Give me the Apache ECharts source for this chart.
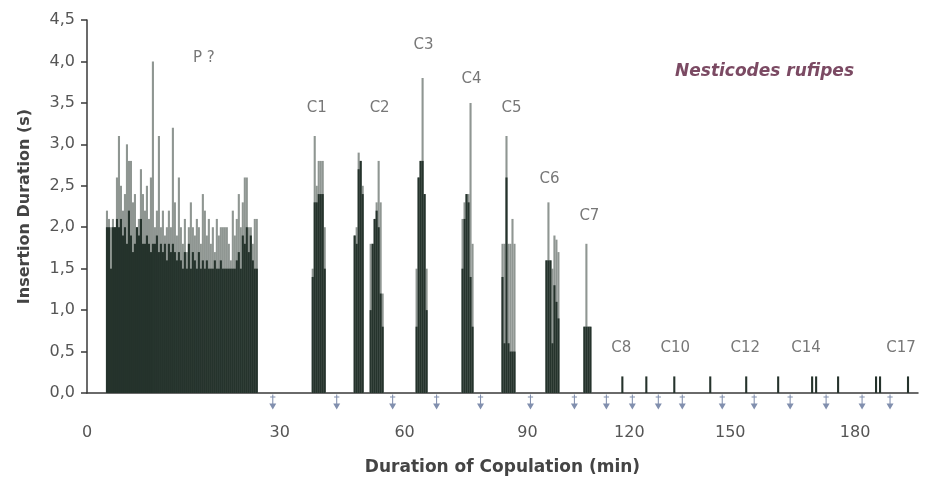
<!DOCTYPE html>
<html>
<head>
<meta charset="utf-8">
<script src="https://cdn.jsdelivr.net/npm/echarts@6/dist/echarts.min.js"></script>
<style>
html,body{margin:0;padding:0;background:#fff;}
#chart{width:933px;height:477px;}
</style>
</head>
<body>
<div id="chart"></div>
<script>
// x positions are "recording slots" along the copulation (irregular time scale of the original)
const xTickSlots  = [0, 96.5, 159, 220.5, 271.5, 322, 384.5];
const xTickLabels = ['0', '30', '60', '90', '120', '150', '180'];

// groups of insertions: start slot and consecutive values
const groupNames = ['P ?', 'C1', 'C2a', 'C2b', 'C3', 'C4', 'C5', 'C6', 'C7'];
const groupStart = [10, 113, 134, 142, 165, 188, 208, 230, 249];
const pDark  = [2.0,2.0,1.5,2.0,2.0,2.1,2.0,2.1,1.9,2.0,1.8,2.2,1.9,1.7,1.8,2.0,1.9,2.1,1.8,1.8,
                1.9,1.8,1.7,1.8,1.8,1.9,1.7,1.8,1.7,1.8,1.6,1.8,1.7,1.8,1.7,1.6,1.7,1.6,1.5,1.7,
                1.5,1.8,1.5,1.7,1.6,1.5,1.7,1.5,1.6,1.5,1.6,1.5,1.5,1.5,1.6,1.5,1.5,1.6,1.5,1.5,
                1.5,1.5,1.5,1.5,1.5,1.6,1.7,1.5,1.9,1.8,2.0,1.7,1.9,1.6,1.5,1.5];
const pLight = [2.2,2.1,2.0,2.1,2.0,2.6,3.1,2.5,2.2,2.4,3.0,2.8,2.8,2.3,2.4,2.0,2.1,2.7,2.4,2.2,
                2.5,2.1,2.6,4.0,2.0,2.2,3.1,2.0,2.2,1.9,2.0,2.2,2.0,3.2,2.3,1.9,2.6,2.0,1.8,2.1,
                1.7,2.0,2.3,2.0,1.9,2.1,2.0,1.8,2.4,2.2,1.9,2.1,1.8,2.0,1.7,2.1,1.9,2.0,2.0,2.0,
                2.0,1.8,1.6,2.2,1.9,2.1,2.4,2.0,2.3,2.6,2.6,2.0,2.0,1.8,2.1,2.1];
const c1Dark  = [1.4,2.3,2.3,2.4,2.4,2.4,1.5];
const c1Light = [1.5,3.1,2.5,2.8,2.8,2.8,2.0];
const c2aDark  = [1.9,1.8,2.7,2.8,2.4];
const c2aLight = [1.9,2.0,2.9,2.8,2.5];
const c2bDark  = [1.0,1.8,2.1,2.2,2.0,1.2,0.8];
const c2bLight = [1.8,1.8,2.1,2.3,2.8,2.3,1.2];
const c3Dark  = [0.8,2.6,2.8,2.8,2.4,1.0];
const c3Light = [1.5,2.6,2.8,3.8,2.4,1.5];
const c4Dark  = [1.5,2.1,2.4,2.3,1.4,0.8];
const c4Light = [2.1,2.3,2.4,2.4,3.5,1.8];
const c5Dark  = [1.4,0.6,2.6,0.6,0.5,0.5,0.5];
const c5Light = [1.8,1.8,3.1,1.8,1.8,2.1,1.8];
const c6Dark  = [1.6,1.6,1.6,0.6,1.3,1.1,0.9];
const c6Light = [1.6,2.3,1.6,1.5,1.9,1.85,1.7];
const c7Dark  = [0.8,0.8,0.8,0.8];
const c7Light = [0.8,1.8,0.8,0.8];
const darkGroups  = [pDark, c1Dark, c2aDark, c2bDark, c3Dark, c4Dark, c5Dark, c6Dark, c7Dark];
const lightGroups = [pLight, c1Light, c2aLight, c2bLight, c3Light, c4Light, c5Light, c6Light, c7Light];

// late copulations (C8 - C17): single short insertions
const lateSlots  = [268, 280, 294, 312, 330, 346, 363, 365, 376, 395, 397, 411];
const lateValues = [0.2, 0.2, 0.2, 0.2, 0.2, 0.2, 0.2, 0.2, 0.2, 0.2, 0.2, 0.2];

// arrows under the axis
const arrowSlots = [93, 125, 153, 175, 197, 222, 244, 260, 273, 286, 298, 318, 334, 352, 370, 388, 402];

// annotations
const noteTexts  = ['P ?', 'C1', 'C2', 'C3', 'C4', 'C5', 'C6', 'C7', 'C8', 'C10', 'C12', 'C14', 'C17'];
const noteSlots  = [58.5, 115, 146.5, 168.5, 192.5, 212.5, 231.5, 251.5, 267.5, 294.5, 329.5, 360, 407.5];
const noteValues = [4.04, 3.44, 3.44, 4.2, 3.79, 3.44, 2.58, 2.14, 0.54, 0.54, 0.54, 0.54, 0.54];

const darkData = [], lightData = [];
groupStart.forEach((s, g) => {
  darkGroups[g].forEach((v, i) => darkData.push([s + i, v]));
  lightGroups[g].forEach((v, i) => lightData.push([s + i, v]));
});
lateSlots.forEach((s, i) => darkData.push([s, lateValues[i]]));

const FONT = 'DejaVu Sans';
const chart = echarts.init(document.getElementById('chart'), null, {renderer: 'canvas'});
chart.setOption({
  animation: false,
  backgroundColor: '#fff',
  title: {
    text: 'Nesticodes rufipes',
    left: 670, top: 58,
    textStyle: {fontFamily: FONT, fontSize: 17, fontWeight: 'bold', fontStyle: 'italic', color: '#7b4a63'}
  },
  grid: {left: 87, right: 15, top: 20, bottom: 84, containLabel: false, outerBoundsMode: 'none'},
  xAxis: {
    type: 'value', min: 0, max: 416,
    name: 'Duration of Copulation (min)', nameLocation: 'middle', nameGap: 66,
    nameTextStyle: {fontFamily: FONT, fontSize: 17, fontWeight: 'bold', color: '#444'},
    axisLine: {show: true, onZero: false, lineStyle: {color: '#3a3a3a', width: 1.5}},
    axisTick: {show: false},
    splitLine: {show: false},
    axisLabel: {
      customValues: xTickSlots,
      margin: 32,
      fontFamily: FONT, fontSize: 16, color: '#555',
      formatter: v => { const i = xTickSlots.indexOf(v); return i >= 0 ? xTickLabels[i] : ''; }
    }
  },
  yAxis: {
    type: 'value', min: 0, max: 4.5, interval: 0.5,
    name: 'Insertion Duration (s)', nameLocation: 'middle', nameGap: 54,
    nameTextStyle: {fontFamily: FONT, fontSize: 16, fontWeight: 'bold', color: '#444'},
    axisLine: {show: true, lineStyle: {color: '#3a3a3a', width: 1.5}},
    axisTick: {show: true, length: 6, lineStyle: {color: '#3a3a3a', width: 1.5}},
    splitLine: {show: false},
    axisLabel: {
      margin: 12, fontFamily: FONT, fontSize: 16, color: '#555',
      formatter: v => v.toFixed(1).replace('.', ',')
    }
  },
  series: [
    {
      name: 'light', type: 'bar', data: lightData, barWidth: 2.1, barGap: '-100%',
      itemStyle: {color: '#8f9692'}, z: 2
    },
    {
      name: 'dark', type: 'bar', data: darkData, barWidth: 2.1, barGap: '-100%',
      itemStyle: {color: '#25332c'}, z: 3
    },
    {
      name: 'arrows', type: 'scatter', clip: false, z: 4,
      data: arrowSlots.map(s => [s, 0]),
      symbol: 'path://M1,2 H7 V3 H1 Z M3.4,0 H4.6 V9 H8 L4,15 L0,9 H3.4 Z',
      symbolSize: [7, 15], symbolOffset: [0, 9],
      itemStyle: {color: '#62739a'}
    },
    {
      name: 'notes', type: 'scatter', z: 5, clip: false,
      symbolSize: 1, itemStyle: {color: 'rgba(0,0,0,0)'},
      data: noteTexts.map((t, i) => ({name: t, value: [noteSlots[i], noteValues[i]]})),
      label: {show: true, position: 'inside', formatter: p => p.name,
              fontFamily: FONT, fontSize: 15, color: '#555'}
    }
  ]
});
</script>
</body>
</html>
